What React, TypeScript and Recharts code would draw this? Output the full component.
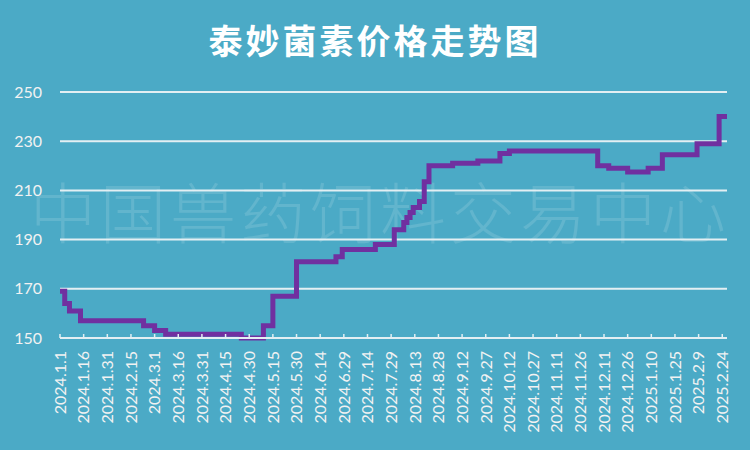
import React from "react";
import { LineChart, Line, XAxis, YAxis, CartesianGrid } from "recharts";

// price change points (date the new price starts, price)
const changeDates = [
	"2024.1.1", "2024.1.4", "2024.1.7", "2024.1.14", "2024.2.23", "2024.3.1",
	"2024.3.8", "2024.4.25", "2024.5.9", "2024.5.15", "2024.5.30", "2024.6.24",
	"2024.6.28", "2024.7.19", "2024.7.31", "2024.8.6", "2024.8.8", "2024.8.10",
	"2024.8.12", "2024.8.16", "2024.8.19", "2024.8.22", "2024.9.6", "2024.9.22",
	"2024.10.6", "2024.10.12", "2024.12.7", "2024.12.14", "2024.12.26", "2025.1.8",
	"2025.1.17", "2025.2.8", "2025.2.22", "2025.2.27",
];
const prices = [
	169, 164, 161, 157, 155, 153,
	151.5, 150, 155, 167, 181, 183,
	186, 188, 194, 197, 199, 201,
	203, 205.5, 213.5, 220, 221, 222,
	225, 226, 220, 219, 217.5, 219,
	224.5, 229, 240, 240,
];

const xTickLabels = [
	"2024.1.1", "2024.1.16", "2024.1.31", "2024.2.15", "2024.3.1", "2024.3.16",
	"2024.3.31", "2024.4.15", "2024.4.30", "2024.5.15", "2024.5.30", "2024.6.14",
	"2024.6.29", "2024.7.14", "2024.7.29", "2024.8.13", "2024.8.28", "2024.9.12",
	"2024.9.27", "2024.10.12", "2024.10.27", "2024.11.11", "2024.11.26", "2024.12.11",
	"2024.12.26", "2025.1.10", "2025.1.25", "2025.2.9", "2025.2.24",
];
const yTicks = [150, 170, 190, 210, 230, 250];

const title = "泰妙菌素价格走势图";
const watermark = "中国兽药饲料交易中心";

const START = Date.UTC(2024, 0, 1);
function dayIndex(label: string) {
	const [y, m, d] = label.split(".").map(Number);
	return Math.round((Date.UTC(y, m - 1, d) - START) / 86400000);
}

const data = changeDates.map((d, i) => ({ day: dayIndex(d), price: prices[i] }));
const xTicks = xTickLabels.map(dayIndex);
const labelByDay: Record<number, string> = {};
xTickLabels.forEach((l) => (labelByDay[dayIndex(l)] = l));

const BG = "#4BAAC6";
const GRID = "#e3eff3";
const TEXT = "#f2f2f2";
const FONT = "Lato, 'Noto Sans CJK SC', sans-serif";

function DateTick(props: any) {
	const { x, y, payload } = props;
	return (
		<g>
			<line x1={x} y1={y} x2={x} y2={y - 4} stroke={GRID} strokeWidth={1.5} />
			<text
				transform={`translate(${x}, ${y + 13}) rotate(-90)`}
				textAnchor="end"
				dy="0.36em"
				fill={TEXT}
				fontSize={16}
				fontFamily={FONT}
			>
				{labelByDay[payload.value]}
			</text>
		</g>
	);
}

export default function App() {
	return (
		<div style={{ position: "absolute", left: 0, top: 0, width: 750, height: 450 }}>
			<svg width={750} height={450} style={{ position: "absolute", left: 0, top: 0 }}>
				<rect width={750} height={450} fill={BG} />
				<text
					x={375}
					y={54}
					textAnchor="middle"
					fill="#ffffff"
					fontSize={34}
					fontWeight={700}
					fontFamily="'Noto Sans CJK SC', sans-serif"
					style={{ letterSpacing: 3 }}
				>
					{title}
				</text>
				<text
					x={380}
					y={238}
					textAnchor="middle"
					fill="#ffffff"
					fillOpacity={0.13}
					fontSize={66}
					fontWeight={300}
					fontFamily="'Noto Sans CJK SC', sans-serif"
					style={{ letterSpacing: 4 }}
				>
					{watermark}
				</text>
			</svg>
			<div style={{ position: "absolute", left: 0, top: 0 }}>
				<LineChart
					width={750}
					height={450}
					data={data}
					margin={{ top: 92, right: 23, bottom: 0, left: 0 }}
				>
					<CartesianGrid horizontal vertical={false} stroke={GRID} strokeWidth={2} />
					<XAxis
						dataKey="day"
						type="number"
						domain={[0, 423]}
						ticks={xTicks}
						interval={0}
						height={112}
						axisLine={{ stroke: GRID, strokeWidth: 2 }}
						tickLine={false}
						tickSize={0}
						tickMargin={0}
						tick={<DateTick />}
					/>
					<YAxis
						type="number"
						domain={[150, 250]}
						ticks={yTicks}
						interval={0}
						width={60}
						axisLine={false}
						tickLine={false}
						tickSize={0}
						tickMargin={18}
						tick={{ fill: TEXT, fontSize: 16, fontFamily: FONT }}
					/>
					<Line
						type="stepAfter"
						dataKey="price"
						stroke="#7030A0"
						strokeWidth={5}
						dot={false}
						activeDot={false}
						isAnimationActive={false}
					/>
				</LineChart>
			</div>
		</div>
	);
}
